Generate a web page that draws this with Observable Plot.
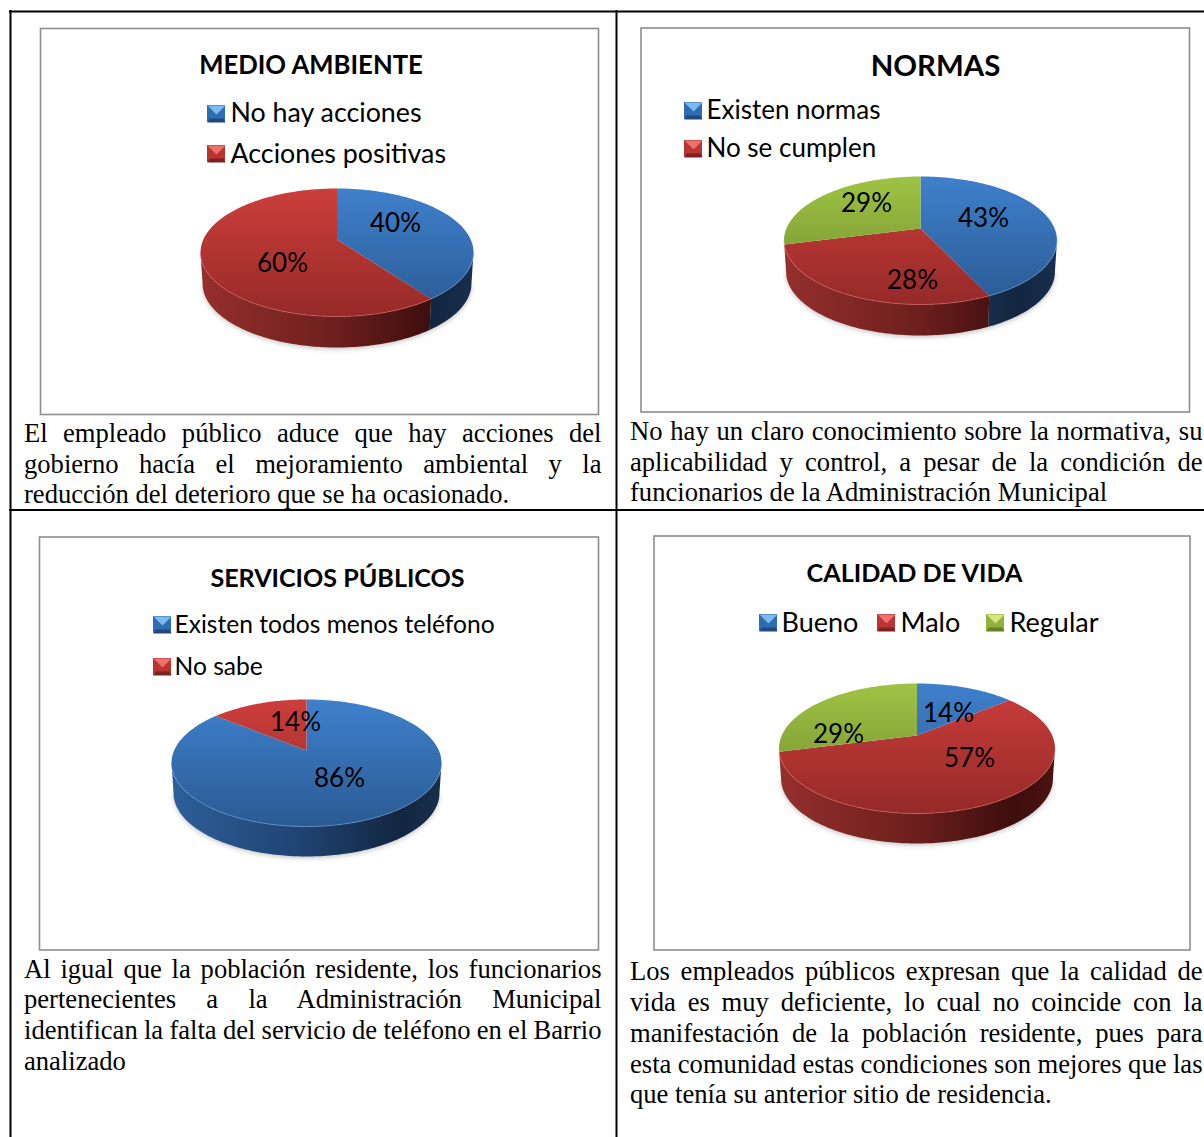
<!DOCTYPE html>
<html lang="es">
<head>
<meta charset="utf-8">
<script src="https://cdn.jsdelivr.net/npm/d3@7"></script>
<script src="https://cdn.jsdelivr.net/npm/@observablehq/plot@0.6"></script>
<style>html,body{margin:0;padding:0;background:#fff}svg{display:block}</style>
</head>
<body>
<div id="chart"></div>
<script>
// ---- values ----
const titles = ["MEDIO AMBIENTE", "NORMAS", "SERVICIOS PÚBLICOS", "CALIDAD DE VIDA"];
const medioAmbienteValues = [40, 60];
const normasValues = [43, 28, 29];
const serviciosValues = [86, 14];
const calidadValues = [14, 57, 29];
const allValues = [medioAmbienteValues, normasValues, serviciosValues, calidadValues];
const sliceColors = [["blue","red"],["blue","red","green"],["blue","red"],["blue","red","green"]];
const legendLabels = [
  ["No hay acciones", "Acciones positivas"],
  ["Existen normas", "No se cumplen"],
  ["Existen todos menos teléfono", "No sabe"],
  ["Bueno", "Malo", "Regular"]
];
const captions = [
  ["El empleado público aduce que hay acciones del",
   "gobierno hacía el mejoramiento ambiental y la",
   "reducción del deterioro que se ha ocasionado."],
  ["No hay un claro conocimiento sobre la normativa, su",
   "aplicabilidad y control, a pesar de la condición de",
   "funcionarios de la Administración Municipal"],
  ["Al igual que la población residente, los funcionarios",
   "pertenecientes a la Administración Municipal",
   "identifican la falta del servicio de teléfono en el Barrio",
   "analizado"],
  ["Los empleados públicos expresan que la calidad de",
   "vida es muy deficiente, lo cual no coincide con la",
   "manifestación de la población residente, pues para",
   "esta comunidad estas condiciones son mejores que las",
   "que tenía su anterior sitio de residencia."]
];

// ---- layout (page pixels, separate from the values) ----
const W = 1204, H = 1137;
const frames = [
  {x1:40.5,y1:28.5,x2:598.5,y2:414.5},
  {x1:641,y1:28,x2:1189.5,y2:412},
  {x1:39.5,y1:537,x2:598.5,y2:950},
  {x1:654,y1:536,x2:1190,y2:950}
];
const pieGeom = [
  {cx:336.5,rx:136.5,top:188,apex:239,bottom:316,base:347},
  {cx:920,rx:136.5,top:176,apex:228,bottom:304,base:335},
  {cx:306,rx:135,top:699,apex:750,bottom:826,base:856},
  {cx:916.5,rx:138,top:683,apex:735,bottom:813,base:843}
];
const titlePos = [
  {x:310.5,y:73,size:25.7},{x:935,y:75,size:29.4},{x:337,y:586,size:25.1},{x:914,y:581,size:25.2}
];
const legendPos = [
  {size:26.8,items:[{sx:207,sy:105,tx:230,y:121},{sx:207,sy:145,tx:230,y:162}]},
  {size:26,items:[{sx:684,sy:102,tx:706,y:118},{sx:684,sy:140,tx:706,y:156}]},
  {size:24.6,items:[{sx:153,sy:616,tx:174,y:632},{sx:153,sy:658,tx:174,y:674}]},
  {size:27,items:[{sx:759,sy:614,tx:781,y:631},{sx:877,sy:614,tx:900,y:631},{sx:986,sy:614,tx:1009,y:631}]}
];
const labelPos = [
  [{x:395,y:223},{x:282,y:263}],
  [{x:983,y:218},{x:912,y:280},{x:866,y:203}],
  [{x:339,y:778},{x:295,y:722}],
  [{x:948,y:713},{x:969,y:758},{x:838,y:734}]
];
const captionPos = [
  {x:23.5,right:601,ys:[441,472,502]},
  {x:629.5,right:1202,ys:[439,470,500]},
  {x:23.5,right:601,ys:[977,1007,1038,1069]},
  {x:629.5,right:1202,ys:[979,1010,1041,1072,1102]}
];

// ---- colours ----
const topStops = {blue:["#3f80cc","#2a5a93"],red:["#cc3e3b","#952a28"],green:["#9fc345","#6f8c2c"]};
const wallStops = {
  blue:["#2d5f99","#1f4270","#12263f","#172f4e"],
  red:["#952f2c","#6c1f1d","#3c0e0d","#4a1311"],
  green:["#6d8a2a","#556c20","#354414","#3f5018"]
};
const rimColor = {blue:"#6ea3e0",red:"#e56a66",green:"#b8d468"};
const swatchColor = {
  blue:["#7dbaf2","#2f6db2","#21497a"],
  red:["#f0706b","#b93533","#7a2321"],
  green:["#d3e67f","#93b13a","#677f27"]
};

// ---- perspective view of a round pie ----
function camera(g) {
  const t = g.apex - g.top, f = g.bottom - g.apex;
  const k = (f - t) / (f + t), b = t * (1 + k), a = g.rx * Math.sqrt(1 - k * k);
  const dy = g.base - g.bottom;
  const at = (th, lower = false) => {
    const u = Math.sin(th), v = -Math.cos(th), w = 1 - k * v;
    const X = a * u / w, Y = b * v / w;
    return lower ? {x: g.cx + X * 0.985, y: g.apex + Y + dy} : {x: g.cx + X, y: g.apex + Y};
  };
  const edge = Math.acos(-k);
  return {at, from: edge, to: 2 * Math.PI - edge};
}
function arc(at, s, e, lower) {
  const n = Math.max(2, Math.ceil((e - s) / (Math.PI / 180)));
  return d3.range(n + 1).map(i => at(s + (e - s) * i / n, lower));
}

const marks = [];
const defs = [];
const addGrad = (id, x1, y1, x2, y2, stops) => {
  const off = stops.length === 2 ? [0, 1] : [0, 0.5, 0.85, 1];
  defs.push(`<linearGradient id="${id}" gradientUnits="userSpaceOnUse" x1="${x1}" y1="${y1}" x2="${x2}" y2="${y2}">` +
    stops.map((c, i) => `<stop offset="${off[i]}" stop-color="${c}"/>`).join("") + `</linearGradient>`);
};

// table rules and chart frames
marks.push(Plot.ruleY([11], {x1: 9, x2: W, stroke: "#000", strokeWidth: 2}));
marks.push(Plot.ruleY([509.5], {x1: 9, x2: W, stroke: "#000", strokeWidth: 2}));
marks.push(Plot.ruleX([10], {y1: 10, y2: H, stroke: "#000", strokeWidth: 2}));
marks.push(Plot.ruleX([616], {y1: 10, y2: H, stroke: "#000", strokeWidth: 2}));
marks.push(Plot.rect(frames, {x1:"x1",y1:"y1",x2:"x2",y2:"y2",fill:"none",stroke:"#8e8e8e",strokeWidth:1.6}));

allValues.forEach((values, p) => {
  const g = pieGeom[p], cam = camera(g);
  const slices = d3.pie().sort(null)(values);
  // soft shadow
  marks.push(Plot.line(arc(cam.at, cam.from, cam.to, true).map(d => ({x:d.x,y:d.y+1.5})),
    {x:"x",y:"y",fill:"#777",stroke:"none",fillOpacity:0.45,imageFilter:"blur(2.5px)"}));
  slices.forEach((s, i) => {
    const c = sliceColors[p][i];
    addGrad(`top-${p}-${i}`, 0, g.top, 0, g.bottom, topStops[c]);
    addGrad(`wall-${p}-${i}`, g.cx - g.rx, 0, g.cx + g.rx, 0, wallStops[c]);
    const a0 = Math.max(s.startAngle, cam.from), a1 = Math.min(s.endAngle, cam.to);
    if (a1 > a0) {
      const wall = [...arc(cam.at, a0, a1, false), ...arc(cam.at, a0, a1, true).reverse()];
      marks.push(Plot.line(wall, {x:"x",y:"y",fill:`url(#wall-${p}-${i})`,stroke:"none"}));
    }
    const face = [{x:g.cx,y:g.apex}, ...arc(cam.at, s.startAngle, s.endAngle, false)];
    marks.push(Plot.line(face, {x:"x",y:"y",fill:`url(#top-${p}-${i})`,stroke:"none"}));
    if (a1 > a0) {
      marks.push(Plot.line(arc(cam.at, a0, a1, false), {x:"x",y:"y",stroke:rimColor[c],strokeWidth:1,strokeOpacity:0.6}));
    }
  });
  // value labels
  marks.push(Plot.text(values.map((v, i) => ({t:`${v}%`, ...labelPos[p][i]})), {
    x:"x",y:"y",text:"t",fontFamily:"Lato",fontSize:26,fill:"#000",textAnchor:"middle",lineAnchor:"middle"
  }));
  // title
  marks.push(Plot.text([{t:titles[p],...titlePos[p]}], {
    x:"x",y:"y",text:"t",fontFamily:"Lato",fontWeight:"bold",fontSize:titlePos[p].size,fill:"#000",textAnchor:"middle",lineAnchor:"bottom"
  }));
  // legend
  legendLabels[p].forEach((label, i) => {
    const it = legendPos[p].items[i], c = sliceColors[p][i], col = swatchColor[c];
    const x0 = it.sx, x1 = it.sx + 18, y0 = it.sy, y1 = it.sy + 17;
    marks.push(Plot.rect([{}], {x1:x0,x2:x1,y1:y0,y2:y1,fill:col[1]}));
    marks.push(Plot.line([{x:x0,y:y0},{x:x1,y:y0},{x:(x0+x1)/2,y:y0+9}], {x:"x",y:"y",fill:col[0],stroke:"none"}));
    marks.push(Plot.line([{x:x0,y:y1},{x:x0+2,y:y1-4},{x:x1-2,y:y1-4},{x:x1,y:y1}], {x:"x",y:"y",fill:col[2],stroke:"none"}));
    marks.push(Plot.text([{t:label,x:it.tx,y:it.y}], {
      x:"x",y:"y",text:"t",fontFamily:"Lato",fontSize:legendPos[p].size,fill:"#000",textAnchor:"start",lineAnchor:"bottom"
    }));
  });
  // caption lines
  const lines = captions[p].map((t, i) => ({t, x:captionPos[p].x, y:captionPos[p].ys[i]}));
  marks.push(Plot.text(lines, {
    x:"x",y:"y",text:"t",fontFamily:"Liberation Serif",fontSize:26.6,fill:"#000",textAnchor:"start",lineAnchor:"bottom",
    className:`caption-${p}`
  }));
});

marks.unshift(() => {
  const el = document.createElementNS("http://www.w3.org/2000/svg", "defs");
  el.innerHTML = defs.join("");
  return el;
});

const chart = Plot.plot({
  width: W, height: H, margin: 0,
  style: {background: "#fff"},
  x: {domain: [0, W], range: [0, W], axis: null},
  y: {domain: [0, H], range: [0, H], axis: null},
  marks
});
document.getElementById("chart").append(chart);

// justify caption lines by spreading the word gaps, as the page does
captions.forEach((lines, p) => {
  const nodes = chart.querySelectorAll(`.caption-${p} text`);
  nodes.forEach((node, i) => {
    if (i === lines.length - 1) return;
    const gaps = lines[i].split(" ").length - 1;
    const extra = captionPos[p].right - captionPos[p].x - node.getComputedTextLength();
    node.style.wordSpacing = `${extra / gaps}px`;
  });
});
</script>
</body>
</html>
